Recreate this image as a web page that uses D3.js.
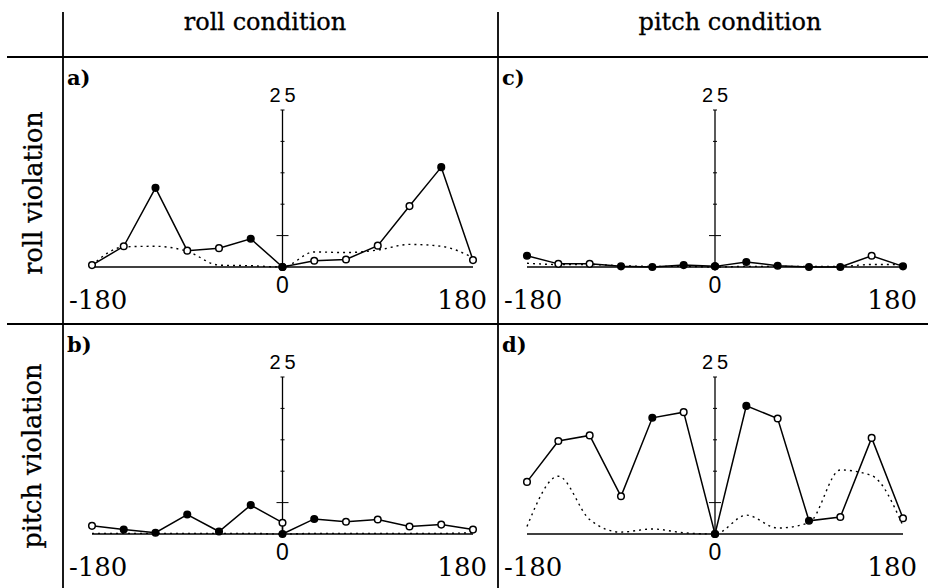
<!DOCTYPE html>
<html>
<head>
<meta charset="utf-8">
<script src="https://cdn.jsdelivr.net/npm/d3@7"></script>
<style>
  body { margin: 0; background: #fff; }
  svg { display: block; }
</style>
</head>
<body>
<div id="chart"></div>
<script>
// angles (deg); solid lines repeat 0 so a panel can have two centre values
var angles = [-180, -150, -120, -90, -60, -30, 0, 30, 60, 90, 120, 150, 180];
var solidAngles = [-180, -150, -120, -90, -60, -30, 0, 0, 30, 60, 90, 120, 150, 180];

var colNames = ["roll condition", "pitch condition"];
var rowNames = ["roll violation", "pitch violation"];
var panelNames = ["a)", "b)", "c)", "d)"];
var xTickLabels = ["-180", "0", "180"];
var yMax = 25;
var yTicks = [5, 10, 15, 20, 25];

// a) roll condition / roll violation
var aSolid  = [0.3, 3.3, 12.6, 2.6, 3.0, 4.5, 0, 0, 1.0, 1.2, 3.4, 9.7, 15.9, 1.1];
var aFilled = [0, 0, 1, 0, 0, 1, 1, 1, 0, 0, 0, 0, 1, 0];
var aDotted = [0.3, 3.2, 3.3, 2.5, 0.3, 0.2, 0, 2.4, 2.3, 2.7, 3.6, 3.3, 1.5];
// b) roll condition / pitch violation
var bSolid  = [1.3, 0.7, 0.2, 3.1, 0.4, 4.6, 1.8, 0, 2.4, 1.95, 2.3, 1.2, 1.5, 0.7];
var bFilled = [0, 1, 1, 1, 1, 1, 0, 1, 1, 0, 0, 0, 0, 0];
var bDotted = [0.1, 0.1, 0.1, 0.1, 0.1, 0.1, 0, 0.1, 0.1, 0.1, 0.1, 0.1, 0.2];
// c) pitch condition / roll violation
var cSolid  = [1.8, 0.5, 0.5, 0.1, 0, 0.3, 0.1, 0.1, 0.8, 0.2, 0, 0, 1.8, 0.1];
var cFilled = [1, 0, 0, 1, 1, 1, 1, 1, 1, 1, 1, 1, 0, 1];
var cDotted = [0.6, 0.4, 0.4, 0.2, 0.1, 0.1, 0, 0.1, 0.1, 0.1, 0.1, 0.4, 0.4];
// d) pitch condition / pitch violation
var dSolid  = [8.3, 14.8, 15.7, 6.0, 18.5, 19.4, 0, 0, 20.4, 18.4, 2.1, 2.7, 15.3, 2.5];
var dFilled = [0, 0, 0, 0, 1, 0, 1, 1, 1, 0, 1, 0, 0, 0];
var dDotted = [1.2, 9.2, 2.3, 0.3, 0.8, 0.2, 0, 3.0, 0.95, 1.8, 10.2, 9.3, 1.3];

var svgWidth = 928, svgHeight = 588;
var colEdges = [63, 498, 928];
var rowEdges = [57, 324, 588];
var serif = "'DejaVu Serif', serif";
var plotFont = "'Liberation Sans', Arial, sans-serif";

var svg = d3.select("#chart").append("svg")
  .attr("width", svgWidth).attr("height", svgHeight);

// table frame
svg.append("line").attr("x1", colEdges[0]).attr("x2", colEdges[0]).attr("y1", 12).attr("y2", svgHeight)
  .attr("stroke", "#000").attr("stroke-width", 1.8);
svg.append("line").attr("x1", colEdges[1]).attr("x2", colEdges[1]).attr("y1", 12).attr("y2", svgHeight)
  .attr("stroke", "#000").attr("stroke-width", 1.8);
svg.append("line").attr("x1", 7).attr("x2", svgWidth).attr("y1", rowEdges[0]).attr("y2", rowEdges[0])
  .attr("stroke", "#000").attr("stroke-width", 1.8);
svg.append("line").attr("x1", 7).attr("x2", svgWidth).attr("y1", rowEdges[1]).attr("y2", rowEdges[1])
  .attr("stroke", "#000").attr("stroke-width", 1.8);

// column headers
var headerX = [265, 730];
colNames.forEach(function(name, i) {
  svg.append("text")
    .attr("x", headerX[i]).attr("y", 30)
    .attr("text-anchor", "middle")
    .attr("font-family", serif).attr("font-size", 24)
    .attr("stroke", "#000").attr("stroke-width", 0.3)
    .text(name);
});

// row headers
var rowLabelPos = [[42, 193], [41, 456]];
rowNames.forEach(function(name, i) {
  svg.append("text")
    .attr("transform", "translate(" + rowLabelPos[i][0] + "," + rowLabelPos[i][1] + ") rotate(-90)")
    .attr("text-anchor", "middle")
    .attr("font-family", serif).attr("font-size", 25.5)
    .attr("stroke", "#000").attr("stroke-width", 0.3)
    .text(name);
});

var panels = [
  { name: panelNames[0], col: 0, row: 0, solid: aSolid, filled: aFilled, dotted: aDotted },
  { name: panelNames[1], col: 0, row: 1, solid: bSolid, filled: bFilled, dotted: bDotted },
  { name: panelNames[2], col: 1, row: 0, solid: cSolid, filled: cFilled, dotted: cDotted },
  { name: panelNames[3], col: 1, row: 1, solid: dSolid, filled: dFilled, dotted: dDotted }
];

panels.forEach(function(p) {
  var left = colEdges[p.col], right = colEdges[p.col + 1];
  var top = rowEdges[p.row];

  var x = d3.scaleLinear().domain([-180, 180]).range([left + 29, right - 25]);
  var y = d3.scaleLinear().domain([0, yMax]).range([top + 210, top + 53]);

  var g = svg.append("g");

  // panel letter
  g.append("text")
    .attr("x", left + 4).attr("y", top + 28)
    .attr("font-family", serif).attr("font-size", 21).attr("font-weight", "bold")
    .text(p.name);

  // horizontal axis
  g.append("line")
    .attr("x1", x(-180)).attr("x2", x(180)).attr("y1", y(0)).attr("y2", y(0))
    .attr("stroke", "#000").attr("stroke-width", 1.4);

  // vertical axis through 0
  g.append("line")
    .attr("x1", x(0)).attr("x2", x(0)).attr("y1", y(0)).attr("y2", y(yMax))
    .attr("stroke", "#000").attr("stroke-width", 1.3);
  g.selectAll(".ytick").data(yTicks).enter().append("line")
    .attr("x1", function(d) { return x(0) - (d === 5 ? 6 : 2); })
    .attr("x2", function(d) { return x(0) + (d === 5 ? 6 : 2); })
    .attr("y1", function(d) { return y(d); })
    .attr("y2", function(d) { return y(d); })
    .attr("stroke", "#000").attr("stroke-width", 1);

  g.append("text")
    .attr("x", x(0) + 2).attr("y", y(yMax) - 8)
    .attr("text-anchor", "middle")
    .attr("font-family", plotFont).attr("font-size", 20).attr("letter-spacing", 4)
    .text(yMax);

  // x tick labels
  g.append("text")
    .attr("x", left + 6).attr("y", y(0) + 42)
    .attr("font-family", serif).attr("font-size", 26)
    .text(xTickLabels[0]);
  g.append("text")
    .attr("x", x(0)).attr("y", y(0) + 26)
    .attr("text-anchor", "middle")
    .attr("font-family", plotFont).attr("font-size", 23)
    .text(xTickLabels[1]);
  g.append("text")
    .attr("x", right - 11).attr("y", y(0) + 42)
    .attr("text-anchor", "end")
    .attr("font-family", serif).attr("font-size", 26)
    .text(xTickLabels[2]);

  // dotted (smooth) series
  var dottedLine = d3.line()
    .x(function(d, i) { return x(angles[i]); })
    .y(function(d) { return y(d); })
    .curve(d3.curveMonotoneX);
  g.append("path")
    .datum(p.dotted)
    .attr("d", dottedLine)
    .attr("fill", "none").attr("stroke", "#000")
    .attr("stroke-width", 1.4).attr("stroke-dasharray", "2,4");

  // solid series with markers
  var solidLine = d3.line()
    .x(function(d, i) { return x(solidAngles[i]); })
    .y(function(d) { return y(d); });
  g.append("path")
    .datum(p.solid)
    .attr("d", solidLine)
    .attr("fill", "none").attr("stroke", "#000").attr("stroke-width", 1.5);

  g.selectAll(".pt").data(p.solid).enter().append("circle")
    .attr("cx", function(d, i) { return x(solidAngles[i]); })
    .attr("cy", function(d) { return y(d); })
    .attr("r", 3.3)
    .attr("fill", function(d, i) { return p.filled[i] ? "#000" : "#fff"; })
    .attr("stroke", "#000").attr("stroke-width", 1.5);
});
</script>
</body>
</html>
